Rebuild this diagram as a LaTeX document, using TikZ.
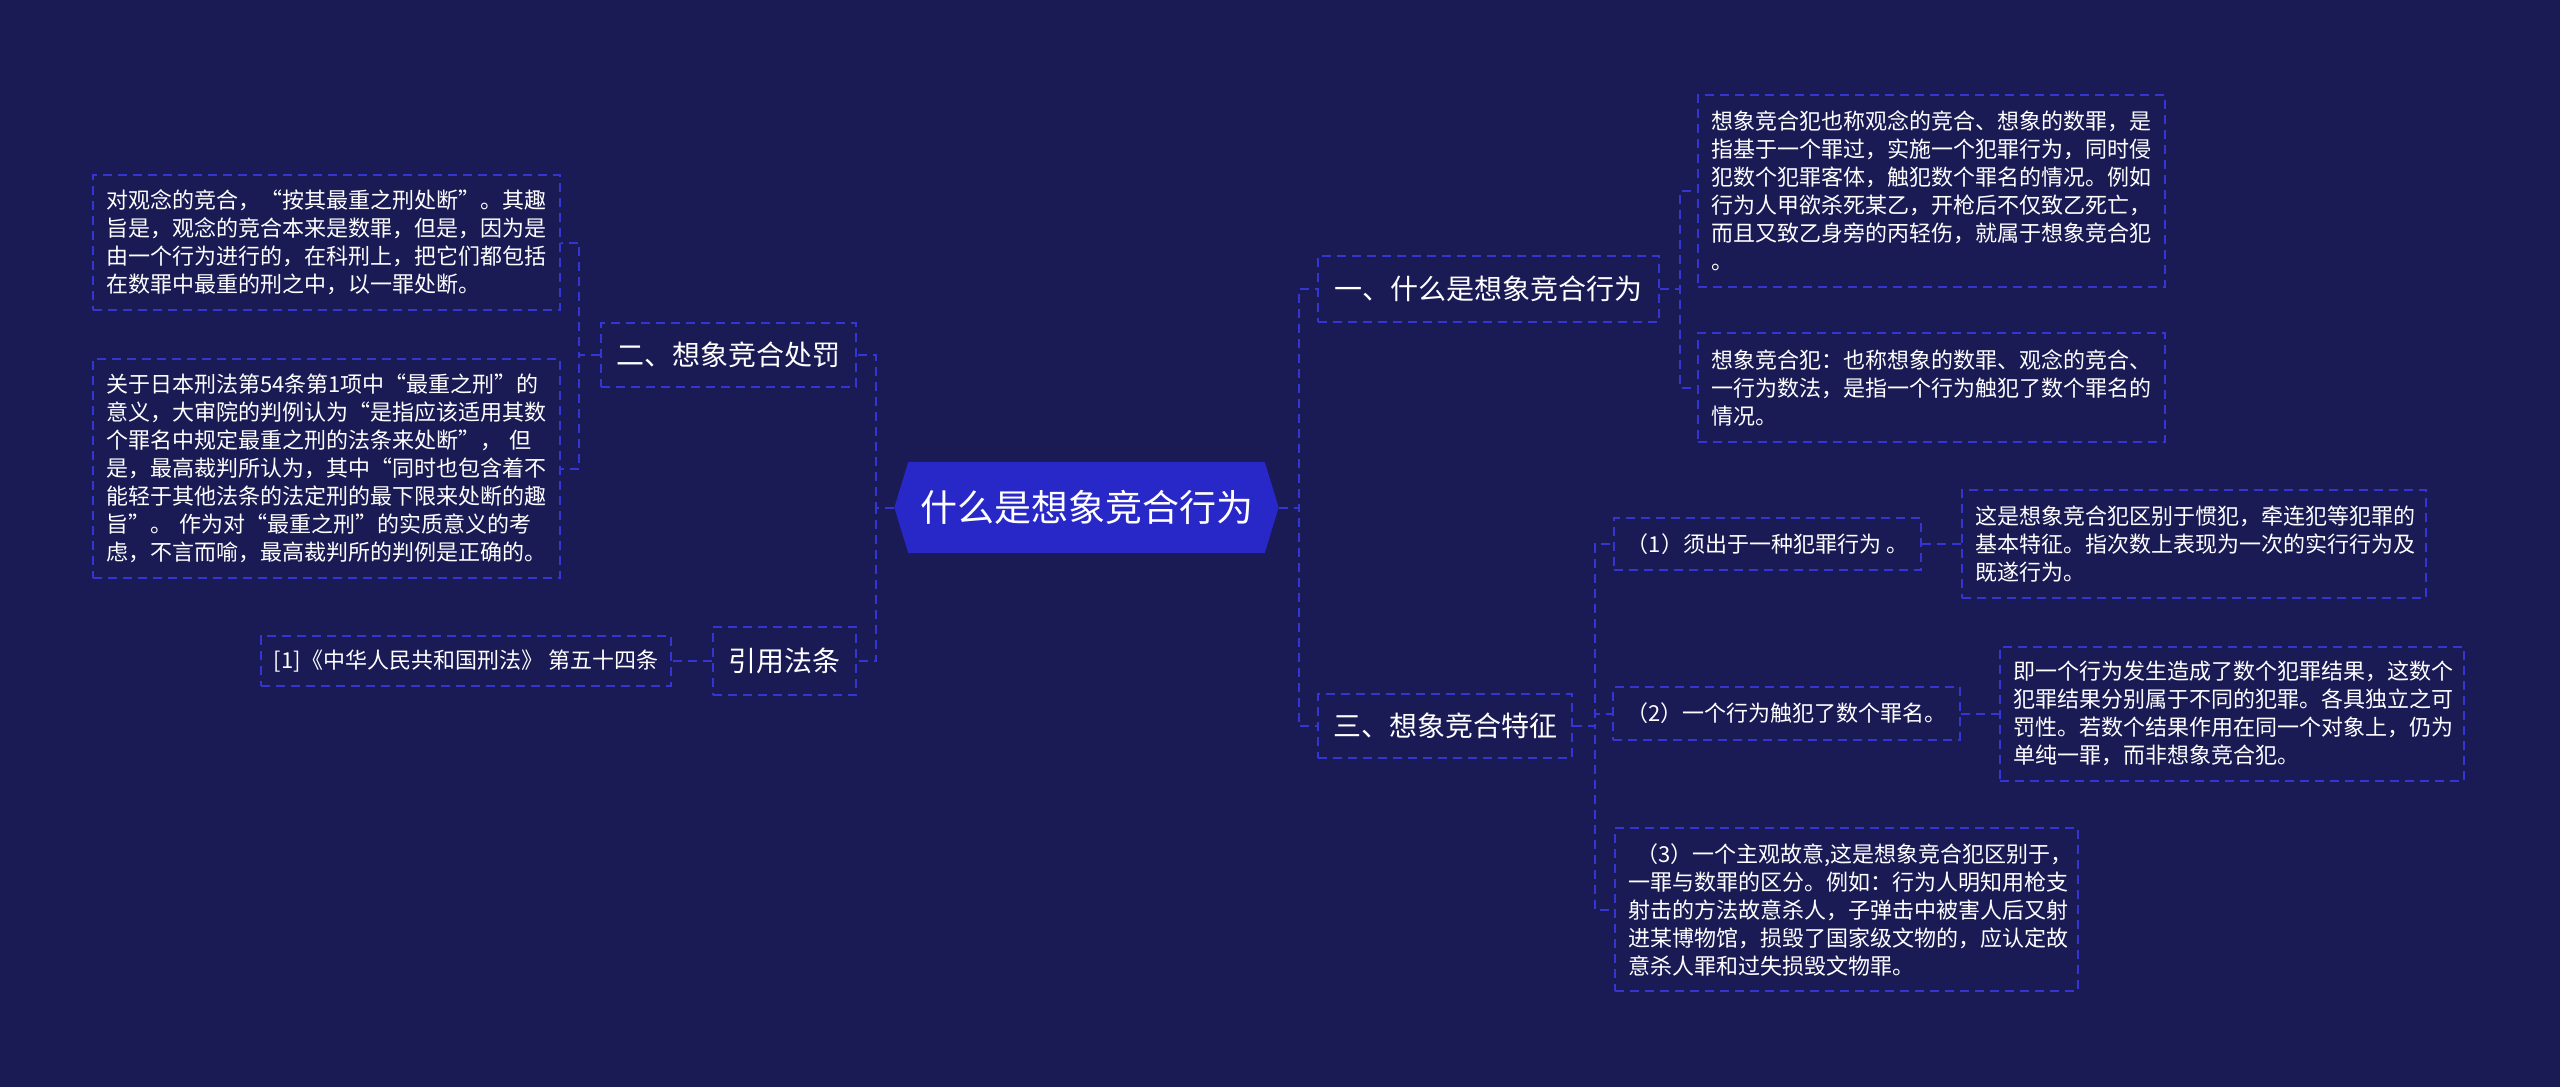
\documentclass[tikz,border=0pt]{standalone}
\usepackage{fontspec}
\setmainfont{Noto Sans CJK SC}
\usetikzlibrary{backgrounds}
\definecolor{bg}{HTML}{1A1A55}
\definecolor{lc}{HTML}{3535D2}
\definecolor{cf}{HTML}{2828C8}
\begin{document}
\begin{tikzpicture}[x=1pt,y=-1pt,
  dashpat/.style={line width=2pt, dash pattern=on 9pt off 6pt},
  box/.style={draw=lc, dashpat, text=white, inner xsep=13pt, inner ysep=2pt, align=left, font=\fontsize{22}{28}\selectfont},
  leaf/.style={box, text width=441pt},
  small/.style={box, align=center},
  topic/.style={box, align=center, inner xsep=2pt, font=\fontsize{28}{34}\selectfont},
  centre/.style={text=white, inner sep=0pt, font=\fontsize{37}{42}\selectfont},
  conn/.style={draw=lc, dashpat}]
\useasboundingbox (0,0) rectangle (2560,1087);
\begin{scope}[on background layer]
\fill[bg] (0,0) rectangle (2560,1087);
\end{scope}

% central
\node[centre, minimum width=384pt, minimum height=91pt] (c) at (1086.5,507.5) {什么是想象竞合行为};
\begin{scope}[on background layer]
\fill[cf] ([xshift=14pt]c.north west) -- ([xshift=-14pt]c.north east) -- (c.east)
  -- ([xshift=-14pt]c.south east) -- ([xshift=14pt]c.south west) -- (c.west) -- cycle;
\end{scope}

% topics
\node[topic, minimum width=341pt, minimum height=66pt] (n1) at (1488.5,289) {一、什么是想象竞合行为};
\node[topic, minimum width=255pt, minimum height=64pt] (n2) at (728.5,355) {二、想象竞合处罚};
\node[topic, minimum width=254pt, minimum height=64pt] (n3) at (1445,726) {三、想象竞合特征};
\node[topic, minimum width=143pt, minimum height=68pt] (n4) at (784.5,661) {引用法条};

% right leaves of topic 1
\node[leaf, minimum height=192pt] (a1) at (1931.5,191) {想象竞合犯也称观念的竞合、想象的数罪，是\\指基于一个罪过，实施一个犯罪行为，同时侵\\犯数个犯罪客体，触犯数个罪名的情况。例如\\行为人甲欲杀死某乙，开枪后不仅致乙死亡，\\而且又致乙身旁的丙轻伤，就属于想象竞合犯\\。};
\node[leaf, minimum height=109pt] (a2) at (1931.5,387.5) {想象竞合犯：也称想象的数罪、观念的竞合、\\一行为数法，是指一个行为触犯了数个罪名的\\情况。};

% left leaves of topic 2
\node[leaf, minimum height=135pt] (b1) at (326.5,242.5) {对观念的竞合，“按其最重之刑处断”。其趣\\旨是，观念的竞合本来是数罪，但是，因为是\\由一个行为进行的，在科刑上，把它们都包括\\在数罪中最重的刑之中，以一罪处断。};
\node[leaf, minimum height=219pt] (b2) at (326.5,468.5) {关于日本刑法第54条第1项中“最重之刑”的\\意义，大审院的判例认为“是指应该适用其数\\个罪名中规定最重之刑的法条来处断”，~但\\是，最高裁判所认为，其中“同时也包含着不\\能轻于其他法条的法定刑的最下限来处断的趣\\旨”。~作为对“最重之刑”的实质意义的考\\虑，不言而喻，最高裁判所的判例是正确的。};
\node[small, minimum width=410pt, minimum height=50pt] (b3) at (466,661) {[1]《中华人民共和国刑法》~第五十四条};

% topic 3 children
\node[small, minimum width=305pt, minimum height=52pt] (t1) at (1767.5,544) {（1）须出于一种犯罪行为~。};
\node[small, minimum width=343pt, minimum height=53pt] (t2) at (1786.5,713.5) {（2）一个行为触犯了数个罪名。};
\node[box, text width=437pt, minimum height=163pt] (t3) at (1846.5,909.5) {\hspace*{8pt}（3）一个主观故意,这是想象竞合犯区别于，\\一罪与数罪的区分。例如：行为人明知用枪支\\射击的方法故意杀人，子弹击中被害人后又射\\进某博物馆，损毁了国家级文物的，应认定故\\意杀人罪和过失损毁文物罪。};
\node[box, text width=438pt, minimum height=108pt] (u1) at (2194,544) {这是想象竞合犯区别于惯犯，牵连犯等犯罪的\\基本特征。指次数上表现为一次的实行行为及\\既遂行为。};
\node[box, text width=438pt, minimum height=134pt] (u2) at (2232,713.5) {即一个行为发生造成了数个犯罪结果，这数个\\犯罪结果分别属于不同的犯罪。各具独立之可\\罚性。若数个结果作用在同一个对象上，仍为\\单纯一罪，而非想象竞合犯。};

% connectors
\draw[conn] (c.east) -- ++(20,0) |- (n1.west);
\draw[conn] (c.east) -- ++(20,0) |- (n3.west);
\draw[conn] (c.west) -- ++(-18,0) |- (n2.east);
\draw[conn] (c.west) -- ++(-18,0) |- (n4.east);
\draw[conn] (n1.east) -- ++(19.5,0) |- (a1.west);
\draw[conn] (n1.east) -- ++(19.5,0) |- (a2.west);
\draw[conn] (n2.west) -- ++(-21,0) |- (b1.east);
\draw[conn] (n2.west) -- ++(-21,0) |- (b2.east);
\draw[conn] (n4.west) -- (b3.east);
\draw[conn] (n3.east) -- ++(21.5,0) |- (t1.west);
\draw[conn] (n3.east) -- ++(21.5,0) |- (t2.west);
\draw[conn] (n3.east) -- ++(21.5,0) |- (t3.west);
\draw[conn] (t1.east) -- (u1.west);
\draw[conn] (t2.east) -- (u2.west);
\end{tikzpicture}
\end{document}
